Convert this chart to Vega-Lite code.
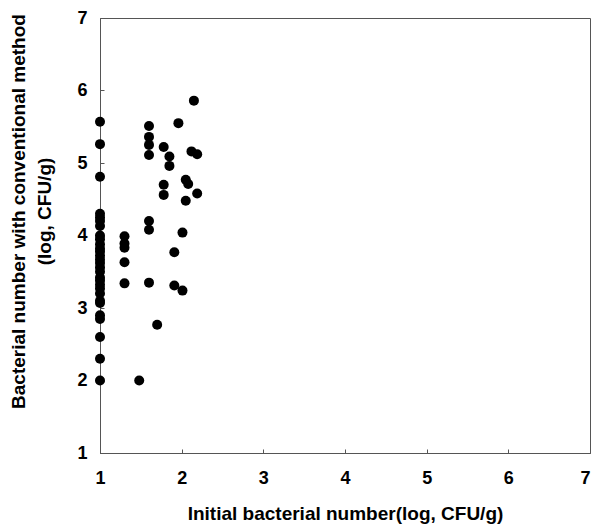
{
  "$schema": "https://vega.github.io/schema/vega-lite/v6.json",
  "width": 490,
  "height": 435,
  "autosize": {"type": "none"},
  "padding": {"left": 100, "top": 18, "right": 4, "bottom": 73},
  "background": "white",
  "config": {
    "view": {"stroke": "#555", "strokeWidth": 1},
    "font": "Liberation Sans"
  },
  "data": {
    "values": [
      {"x": 1, "y": 5.57}, {"x": 1, "y": 5.26}, {"x": 1, "y": 4.81},
      {"x": 1, "y": 4.3}, {"x": 1, "y": 4.25}, {"x": 1, "y": 4.2}, {"x": 1, "y": 4.13},
      {"x": 1, "y": 4.0}, {"x": 1, "y": 3.95}, {"x": 1, "y": 3.88}, {"x": 1, "y": 3.82},
      {"x": 1, "y": 3.78}, {"x": 1, "y": 3.72}, {"x": 1, "y": 3.67}, {"x": 1, "y": 3.62},
      {"x": 1, "y": 3.56}, {"x": 1, "y": 3.5}, {"x": 1, "y": 3.42}, {"x": 1, "y": 3.38},
      {"x": 1, "y": 3.32}, {"x": 1, "y": 3.27}, {"x": 1, "y": 3.2}, {"x": 1, "y": 3.1},
      {"x": 1, "y": 3.07}, {"x": 1, "y": 2.9}, {"x": 1, "y": 2.85}, {"x": 1, "y": 2.6},
      {"x": 1, "y": 2.3}, {"x": 1, "y": 2.0},
      {"x": 1.3, "y": 3.99}, {"x": 1.3, "y": 3.89}, {"x": 1.3, "y": 3.83},
      {"x": 1.3, "y": 3.63}, {"x": 1.3, "y": 3.34},
      {"x": 1.48, "y": 2.0},
      {"x": 1.6, "y": 5.51}, {"x": 1.6, "y": 5.36}, {"x": 1.6, "y": 5.25}, {"x": 1.6, "y": 5.11},
      {"x": 1.6, "y": 4.2}, {"x": 1.6, "y": 4.08}, {"x": 1.6, "y": 3.35},
      {"x": 1.7, "y": 2.77},
      {"x": 1.78, "y": 5.22}, {"x": 1.78, "y": 4.7}, {"x": 1.78, "y": 4.56},
      {"x": 1.85, "y": 5.09}, {"x": 1.85, "y": 4.96},
      {"x": 1.91, "y": 3.77}, {"x": 1.91, "y": 3.31},
      {"x": 2.01, "y": 3.24},
      {"x": 1.96, "y": 5.55},
      {"x": 2.01, "y": 4.04},
      {"x": 2.05, "y": 4.48}, {"x": 2.05, "y": 4.77}, {"x": 2.08, "y": 4.71},
      {"x": 2.12, "y": 5.16}, {"x": 2.19, "y": 5.12},
      {"x": 2.15, "y": 5.86},
      {"x": 2.19, "y": 4.58}
    ]
  },
  "mark": {"type": "point", "filled": true, "color": "black", "opacity": 1, "size": 100},
  "encoding": {
    "x": {
      "field": "x", "type": "quantitative",
      "scale": {"domain": [1, 7], "nice": false, "zero": false},
      "axis": {
        "values": [1, 2, 3, 4, 5, 6, 7],
        "grid": false,
        "title": "Initial bacterial number(log, CFU/g)",
        "titleFontSize": 19, "titleFontWeight": "bold", "titleColor": "black",
        "titleY": 66, "titleBaseline": "alphabetic",
        "labelFontSize": 18, "labelFontWeight": "bold", "labelColor": "black",
        "labelPadding": 20, "labelFlush": false,
        "labelAlign": {"condition": {"test": "datum.value == 7", "value": "right"}, "value": "center"},
        "tickSize": -4, "tickColor": "#555",
        "domainColor": "#555"
      }
    },
    "y": {
      "field": "y", "type": "quantitative",
      "scale": {"domain": [1, 7], "nice": false, "zero": false},
      "axis": {
        "values": [1, 2, 3, 4, 5, 6, 7],
        "grid": false,
        "title": ["Bacterial number with conventional method", "(log, CFU/g)"],
        "titleFontSize": 19, "titleFontWeight": "bold", "titleColor": "black",
        "titleAngle": -90, "titleX": -76, "titleY": 193, "titleAlign": "center",
        "titleBaseline": "alphabetic", "titleLineHeight": 26,
        "labelFontSize": 18, "labelFontWeight": "bold", "labelColor": "black",
        "labelPadding": 17, "labelFlush": false,
        "tickSize": -4, "tickColor": "#555",
        "domainColor": "#555"
      }
    }
  }
}
